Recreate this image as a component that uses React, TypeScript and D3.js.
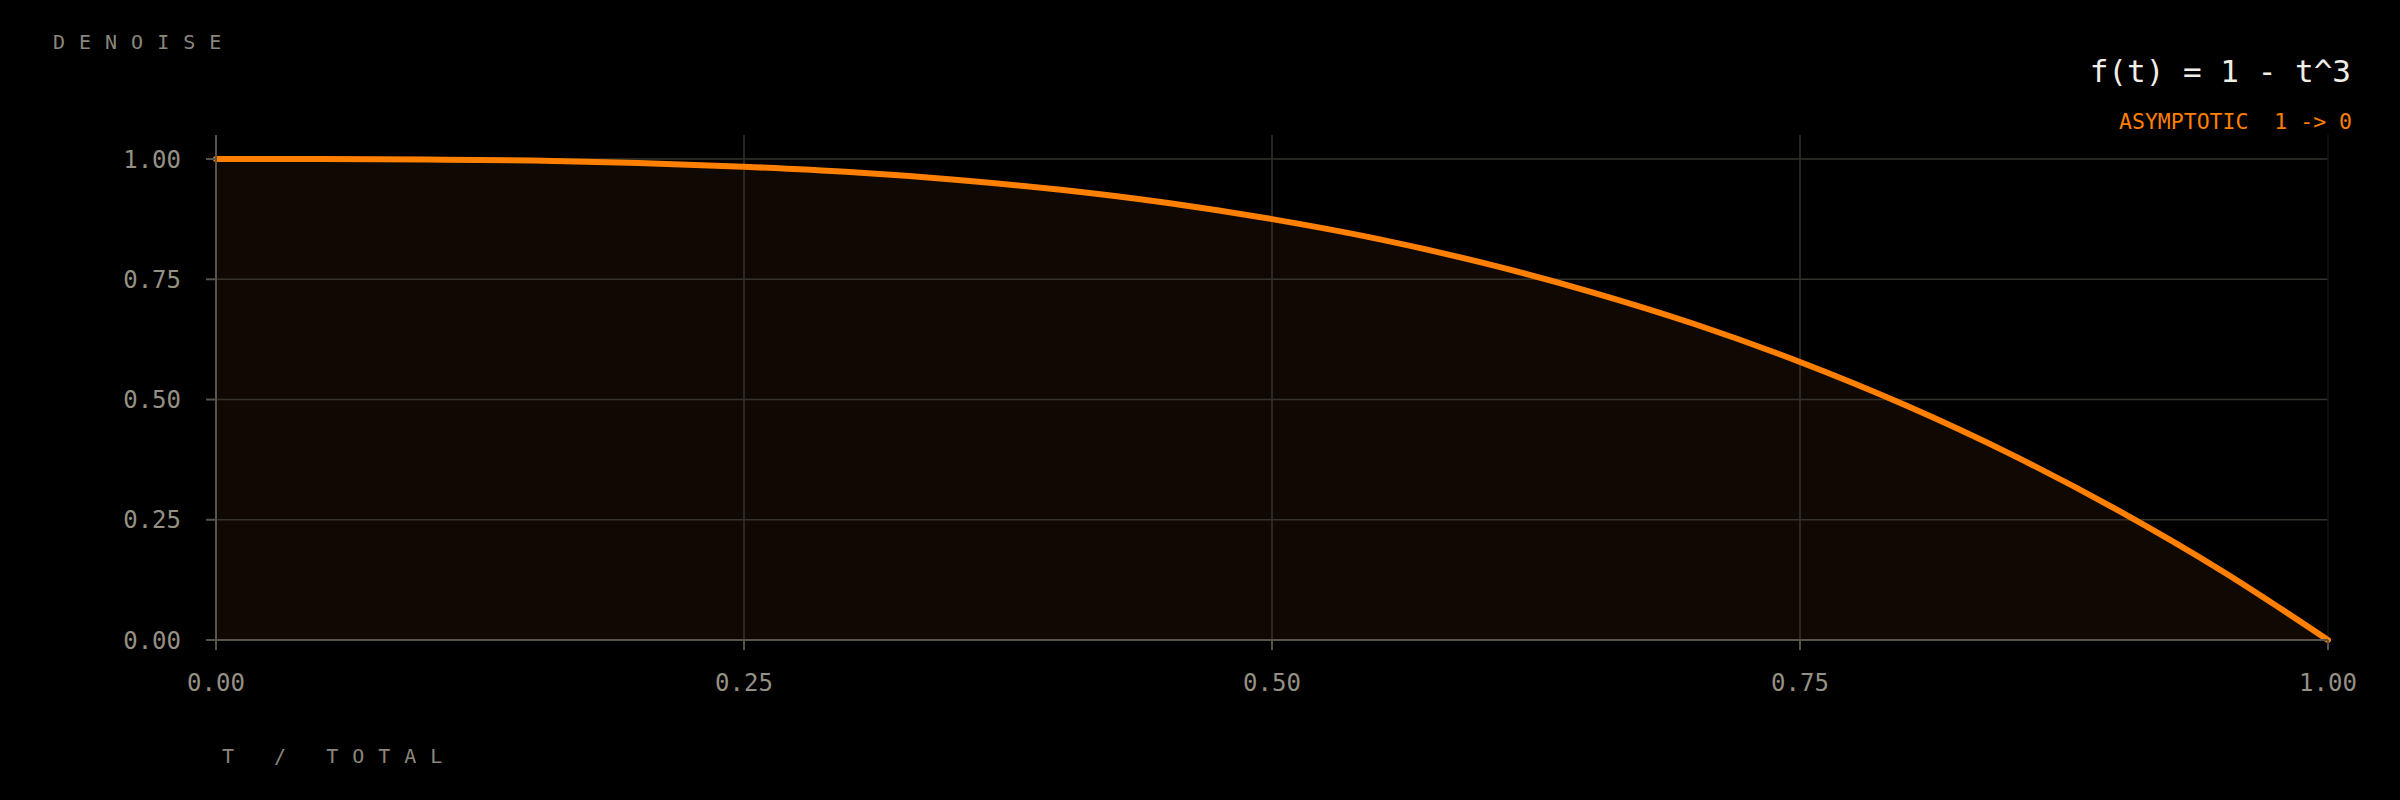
import React, { useEffect } from "react";
import * as d3 from "d3";

const tValues = [0, 0.05, 0.1, 0.15, 0.2, 0.25, 0.3, 0.35, 0.4, 0.45, 0.5, 0.55, 0.6, 0.65, 0.7, 0.75, 0.8, 0.85, 0.9, 0.95, 1.0];
const denoiseValues = [1.0, 1.0, 0.999, 0.997, 0.992, 0.984, 0.973, 0.957, 0.936, 0.909, 0.875, 0.834, 0.784, 0.725, 0.657, 0.578, 0.488, 0.386, 0.271, 0.143, 0.0];
const xTicks = [0, 0.25, 0.5, 0.75, 1.0];
const yTicks = [0, 0.25, 0.5, 0.75, 1.0];
const titleText = "f(t) = 1 - t^3";
const subtitleText = "ASYMPTOTIC  1 -> 0";
const yLabel = "DENOISE";
const xLabel = "T / TOTAL";

const W = 2400;
const H = 800;
const left = 216;
const right = 2328;
const top = 135;
const bottom = 640;
const FONT = "'DejaVu Sans Mono', 'Liberation Mono', monospace";
const ORANGE = "#ff7f00";
const GRID = "#34322c";
const AXIS = "#57544c";
const TICKTXT = "#959084";

export default function App() {
  useEffect(() => {
    document.body.style.background = "#000";
    document.body.style.margin = "0";
  }, []);

  const x = d3.scaleLinear().domain([0, 1]).range([left, right]);
  const y = d3.scaleLinear().domain([0, 1.05]).range([bottom, top]);
  const fmt = d3.format(".2f");
  const data = tValues.map((t, i) => ({ t, v: denoiseValues[i] }));
  const line = d3
    .line<{ t: number; v: number }>()
    .x((d) => x(d.t))
    .y((d) => y(d.v))
    .curve(d3.curveMonotoneX);
  const area = d3
    .area<{ t: number; v: number }>()
    .x((d) => x(d.t))
    .y0(y(0))
    .y1((d) => y(d.v))
    .curve(d3.curveMonotoneX);

  return (
    <svg
      width={W}
      height={H}
      style={{ position: "fixed", left: 0, top: 0, background: "#000", display: "block" }}
    >
      <rect x={0} y={0} width={W} height={H} fill="#000" />
      {/* area */}
      <path d={area(data) || ""} fill="#100803" />
      {/* grid */}
      {yTicks.filter((v) => v > 0).map((v) => (
        <line key={"gy" + v} x1={left} x2={right} y1={y(v)} y2={y(v)} stroke={GRID} strokeWidth={1.5} />
      ))}
      {xTicks.filter((v) => v > 0).map((v) => (
        <line key={"gx" + v} x1={x(v)} x2={x(v)} y1={top} y2={bottom} stroke={v === 1 ? "#141412" : GRID} strokeWidth={1.5} />
      ))}
      {/* line */}
      <path d={line(data) || ""} fill="none" stroke={ORANGE} strokeWidth={6} strokeLinecap="round" />
      {/* axes */}
      <line x1={left} x2={left} y1={top} y2={bottom} stroke={AXIS} strokeWidth={2} />
      <line x1={left} x2={right} y1={bottom} y2={bottom} stroke={AXIS} strokeWidth={2} />
      {yTicks.map((v) => (
        <g key={"yt" + v} transform={`translate(${left},${y(v)})`}>
          <line x1={-10} x2={0} stroke={AXIS} strokeWidth={2} />
          <text x={-35} dy="0.36em" textAnchor="end" fill={TICKTXT} fontFamily={FONT} fontSize={24}>
            {fmt(v)}
          </text>
        </g>
      ))}
      {xTicks.map((v) => (
        <g key={"xt" + v} transform={`translate(${x(v)},${bottom})`}>
          <line y1={0} y2={10} stroke={AXIS} strokeWidth={2} />
          <text y={34} dy="0.71em" textAnchor="middle" fill={TICKTXT} fontFamily={FONT} fontSize={24}>
            {fmt(v)}
          </text>
        </g>
      ))}
      {/* labels */}
      <text x={53} y={49} fill="#8a877d" fontFamily={FONT} fontSize={20} letterSpacing={14}>
        {yLabel}
      </text>
      <text x={222} y={763} fill="#8a877d" fontFamily={FONT} fontSize={20} letterSpacing={14} style={{ whiteSpace: "pre" }}>
        {xLabel}
      </text>
      <text x={2351} y={82} textAnchor="end" fill="#f0ede6" fontFamily={FONT} fontSize={31}>
        {titleText}
      </text>
      <text x={2352} y={129} textAnchor="end" fill={ORANGE} fontFamily={FONT} fontSize={21.5} style={{ whiteSpace: "pre" }}>
        {subtitleText}
      </text>
    </svg>
  );
}
